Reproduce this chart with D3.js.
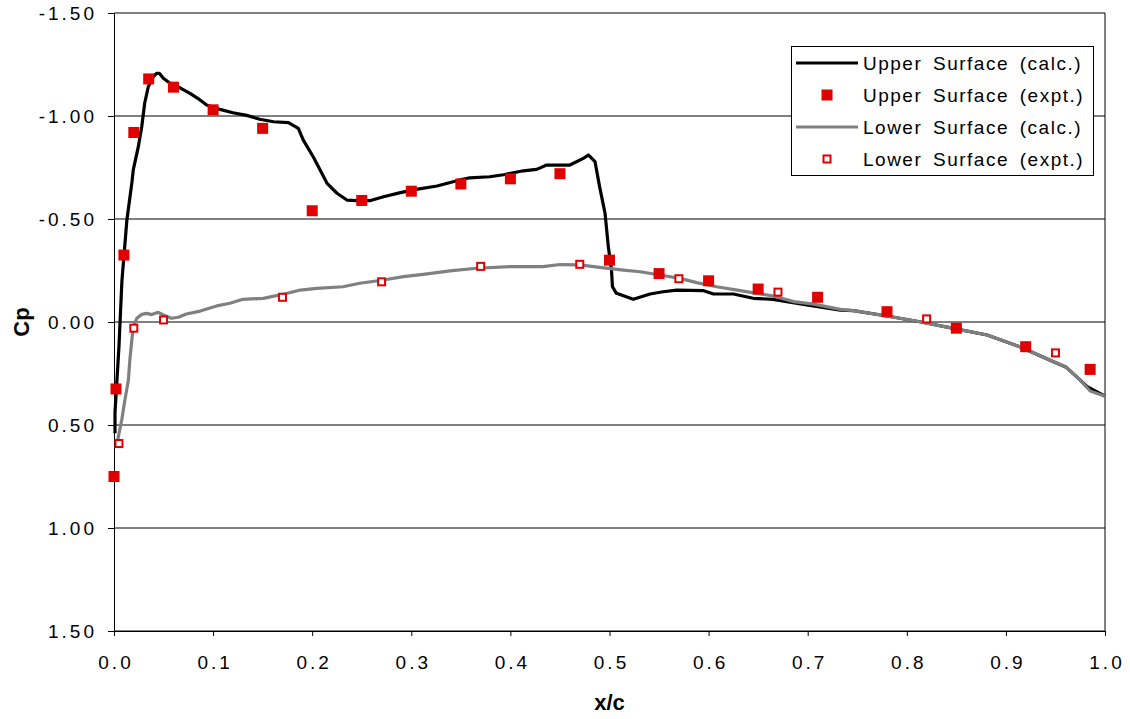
<!DOCTYPE html>
<html>
<head>
	<title>Cp distribution</title>
	<meta charset="utf-8">
	<style>
		body { margin: 0; background: #fff; }
		text { font-family: "Liberation Sans", Arial, sans-serif; fill: #000; }
		.tick text { font-size: 19px; letter-spacing: 3px; }
		.legend text { font-size: 19px; letter-spacing: 1.5px; word-spacing: 4px; }
	</style>
	<script src="https://cdn.jsdelivr.net/npm/d3@7/dist/d3.min.js"></script>
</head>
<body>
<svg width="1130" height="719"></svg>
<script>

	// upper surface, calculated
	var upperCalcX = [0.001, 0.001, 0.005, 0.008, 0.013, 0.018, 0.0195, 0.0245, 0.028, 0.031, 0.0346, 0.0397, 0.043, 0.0457,
		0.0498, 0.0565, 0.0666, 0.0767, 0.0868, 0.0935, 0.107, 0.120, 0.134, 0.147, 0.161, 0.176, 0.186, 0.191, 0.201, 0.208,
		0.215, 0.225, 0.235, 0.245, 0.258, 0.272, 0.289, 0.305, 0.326, 0.346, 0.359, 0.379, 0.393, 0.413, 0.4265, 0.4366,
		0.460, 0.4736, 0.4786, 0.4854, 0.490, 0.4955, 0.4988, 0.502, 0.503, 0.507, 0.524, 0.541, 0.554, 0.568, 0.595, 0.605,
		0.625, 0.645, 0.665, 0.679, 0.699, 0.733, 0.746, 0.780, 0.813, 0.847, 0.881, 0.914, 0.948, 0.961, 0.975, 0.982, 1.0];
	var upperCalcCp = [0.54, 0.44, 0.12, -0.20, -0.495, -0.675, -0.74, -0.85, -0.948, -1.063, -1.142, -1.191, -1.207, -1.207,
		-1.183, -1.159, -1.137, -1.110, -1.078, -1.053, -1.032, -1.016, -1.003, -0.984, -0.972, -0.968, -0.940, -0.883, -0.802, -0.738,
		-0.673, -0.625, -0.592, -0.589, -0.589, -0.608, -0.628, -0.644, -0.660, -0.686, -0.700, -0.705, -0.715, -0.734, -0.741, -0.762,
		-0.762, -0.794, -0.811, -0.778, -0.657, -0.528, -0.366, -0.252, -0.171, -0.139, -0.110, -0.136, -0.147, -0.155, -0.152, -0.136,
		-0.136, -0.115, -0.110, -0.099, -0.083, -0.058, -0.055, -0.029, -0.001, 0.031, 0.063, 0.120, 0.193, 0.220, 0.282, 0.314, 0.36];

	// lower surface, calculated
	var lowerCalcX = [0.0027, 0.0044, 0.0078, 0.011, 0.0145, 0.016, 0.018, 0.0195, 0.023, 0.028, 0.033, 0.038, 0.0447, 0.0498,
		0.058, 0.065, 0.073, 0.087, 0.1036, 0.117, 0.130, 0.1507, 0.171, 0.188, 0.2045, 0.231, 0.248, 0.272, 0.292, 0.312,
		0.339, 0.366, 0.400, 0.433, 0.450, 0.470, 0.490, 0.514, 0.531, 0.551, 0.571, 0.588, 0.608, 0.632, 0.665, 0.686,
		0.706, 0.733, 0.746, 0.780, 0.813, 0.847, 0.881, 0.914, 0.948, 0.961, 0.975, 0.985, 1.0];
	var lowerCalcCp = [0.605, 0.557, 0.476, 0.379, 0.282, 0.184, 0.087, 0.023, -0.018, -0.037, -0.042, -0.036, -0.047, -0.034,
		-0.018, -0.023, -0.039, -0.053, -0.078, -0.091, -0.110, -0.115, -0.135, -0.155, -0.163, -0.171, -0.188, -0.204, -0.220, -0.231,
		-0.248, -0.261, -0.269, -0.269, -0.279, -0.277, -0.265, -0.252, -0.244, -0.228, -0.212, -0.191, -0.171, -0.152, -0.126, -0.099,
		-0.087, -0.061, -0.055, -0.029, -0.001, 0.031, 0.063, 0.120, 0.193, 0.220, 0.282, 0.335, 0.36];

	// experiment
	var upperExpX = [0.0, 0.002, 0.01, 0.02, 0.035, 0.06, 0.1, 0.15, 0.2, 0.25, 0.3, 0.35, 0.4, 0.45, 0.5, 0.55, 0.6, 0.65, 0.71, 0.78, 0.85, 0.92, 0.985];
	var upperExpCp = [0.75, 0.325, -0.325, -0.92, -1.18, -1.14, -1.03, -0.94, -0.54, -0.59, -0.635, -0.67, -0.695, -0.72, -0.30, -0.235, -0.20, -0.16, -0.12, -0.05, 0.03, 0.12, 0.23];
	var lowerExpX = [0.005, 0.02, 0.05, 0.17, 0.27, 0.37, 0.47, 0.57, 0.67, 0.82, 0.95];
	var lowerExpCp = [0.59, 0.03, -0.01, -0.12, -0.195, -0.27, -0.28, -0.21, -0.145, -0.015, 0.15];

	var xTicks = [0, 0.1, 0.2, 0.3, 0.4, 0.5, 0.6, 0.7, 0.8, 0.9, 1.0];
	var yTicks = [-1.5, -1.0, -0.5, 0, 0.5, 1.0, 1.5];
	var legendLabels = ["Upper  Surface  (calc.)", "Upper  Surface  (expt.)", "Lower  Surface  (calc.)", "Lower  Surface  (expt.)"];

	var red = "#e00000";

	var svg = d3.select("svg"),
		margin = {top: 13, right: 25, bottom: 88, left: 114},
		width = +svg.attr("width") - margin.left - margin.right,
		height = +svg.attr("height") - margin.top - margin.bottom,
		g = svg.append("g").attr("transform", "translate(" + margin.left + "," + margin.top + ")");

	var x = d3.scaleLinear().domain([0, 1]).range([0, width]);
	var y = d3.scaleLinear().domain([-1.5, 1.5]).range([0, height]);

	function zip(xs, ys) {
		return xs.map(function(v, i) { return {x: v, cp: ys[i]}; });
	}

	// plain hyphen instead of the unicode minus d3 uses
	var fmtY = function(d) { return d3.format(".2f")(d).replace("\u2212", "-"); };

	// gridlines
	g.append("g")
		.selectAll("line")
		.data(yTicks)
		.enter().append("line")
			.attr("x1", 0)
			.attr("x2", width)
			.attr("y1", function(d) { return y(d); })
			.attr("y2", function(d) { return y(d); })
			.attr("stroke", "#000")
			.attr("stroke-width", 1);

	// right side of the frame
	g.append("line").attr("x1", width).attr("x2", width).attr("y1", 0).attr("y2", height)
		.attr("stroke", "#000").attr("stroke-width", 1);

	g.append("g")
		.attr("transform", "translate(0," + height + ")")
		.call(d3.axisBottom(x).tickValues(xTicks).tickSize(5).tickPadding(20).tickFormat(d3.format(".1f")))
		.call(function(a) {
			a.select(".domain").attr("stroke", "#000");
			a.selectAll(".tick text").attr("font-size", null).attr("font-family", null).attr("dx", "1.5px");
		});

	g.append("g")
		.call(d3.axisLeft(y).tickValues(yTicks).tickSize(6).tickPadding(14).tickFormat(fmtY))
		.call(function(a) {
			a.select(".domain").attr("stroke", "#000");
			a.selectAll(".tick text").attr("font-size", null).attr("font-family", null).attr("dx", "3px");
		});

	var line = d3.line()
		.x(function(d) { return x(d.x); })
		.y(function(d) { return y(d.cp); });

	g.append("path")
		.datum(zip(upperCalcX, upperCalcCp))
		.attr("fill", "none")
		.attr("stroke", "#000")
		.attr("stroke-width", 3.2)
		.attr("stroke-linejoin", "round")
		.attr("d", line);

	g.append("path")
		.datum(zip(lowerCalcX, lowerCalcCp))
		.attr("fill", "none")
		.attr("stroke", "#808080")
		.attr("stroke-width", 3.2)
		.attr("stroke-linejoin", "round")
		.attr("d", line);

	g.append("g")
		.selectAll("rect")
		.data(zip(upperExpX, upperExpCp))
		.enter().append("rect")
			.attr("x", function(d) { return x(d.x) - 5.5; })
			.attr("y", function(d) { return y(d.cp) - 5.5; })
			.attr("width", 11)
			.attr("height", 11)
			.attr("fill", red);

	g.append("g")
		.selectAll("rect")
		.data(zip(lowerExpX, lowerExpCp))
		.enter().append("rect")
			.attr("x", function(d) { return x(d.x) - 3.5; })
			.attr("y", function(d) { return y(d.cp) - 3.5; })
			.attr("width", 7)
			.attr("height", 7)
			.attr("fill", "#fff")
			.attr("stroke", red)
			.attr("stroke-width", 2);

	// axis titles
	svg.append("text")
		.attr("transform", "translate(29," + (margin.top + y(0)) + ") rotate(-90)")
		.attr("text-anchor", "middle")
		.attr("font-size", 22)
		.attr("font-weight", "bold")
		.text("Cp");

	svg.append("text")
		.attr("x", margin.left + x(0.5))
		.attr("y", 710)
		.attr("text-anchor", "middle")
		.attr("font-size", 22)
		.attr("font-weight", "bold")
		.text("x/c");

	// legend
	var legend = svg.append("g").attr("class", "legend").attr("transform", "translate(791,46)");

	legend.append("rect")
		.attr("x", 0.5)
		.attr("y", 0.5)
		.attr("width", 302)
		.attr("height", 129)
		.attr("fill", "#fff")
		.attr("stroke", "#000")
		.attr("stroke-width", 1);

	var item = legend.selectAll("g.item")
		.data(legendLabels)
		.enter().append("g")
			.attr("class", "item")
			.attr("transform", function(d, i) { return "translate(0," + (17 + i * 32) + ")"; });

	item.append("text")
		.attr("x", 72)
		.attr("y", 7)
		.text(function(d) { return d; });

	item.filter(function(d, i) { return i == 0 || i == 2; })
		.append("line")
			.attr("x1", 5)
			.attr("x2", 67)
			.attr("stroke", function(d, i) { return i == 0 ? "#000" : "#808080"; })
			.attr("stroke-width", 3.2);

	item.filter(function(d, i) { return i == 1; })
		.append("rect")
			.attr("x", 30.5).attr("y", -5.5).attr("width", 11).attr("height", 11)
			.attr("fill", red);

	item.filter(function(d, i) { return i == 3; })
		.append("rect")
			.attr("x", 32.5).attr("y", -3.5).attr("width", 7).attr("height", 7)
			.attr("fill", "#fff").attr("stroke", red).attr("stroke-width", 2);

</script>
</body>
</html>
